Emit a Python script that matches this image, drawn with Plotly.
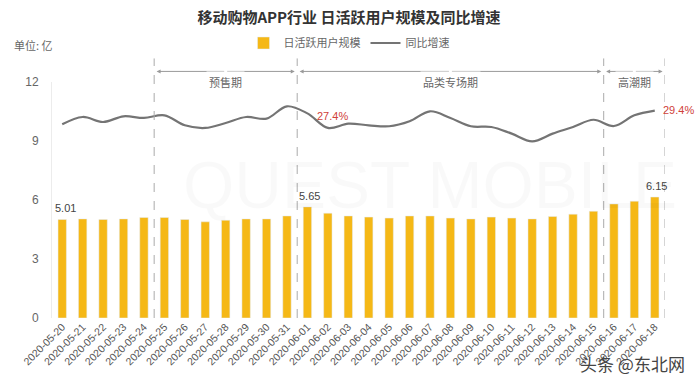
import plotly.graph_objects as go

dates = ["2020-05-20","2020-05-21","2020-05-22","2020-05-23","2020-05-24","2020-05-25",
         "2020-05-26","2020-05-27","2020-05-28","2020-05-29","2020-05-30","2020-05-31",
         "2020-06-01","2020-06-02","2020-06-03","2020-06-04","2020-06-05","2020-06-06",
         "2020-06-07","2020-06-08","2020-06-09","2020-06-10","2020-06-11","2020-06-12",
         "2020-06-13","2020-06-14","2020-06-15","2020-06-16","2020-06-17","2020-06-18"]
dau = [5.01,5.04,5.01,5.04,5.11,5.11,5.01,4.89,4.97,5.04,5.04,5.19,
       5.65,5.33,5.19,5.13,5.08,5.19,5.19,5.08,5.04,5.13,5.08,5.04,
       5.16,5.28,5.43,5.80,5.94,6.15]
growth = [19.5,24.8,21.2,25.3,24.1,26.0,18.8,16.9,20.5,24.8,23.6,32.5,
          27.4,16.9,20.0,18.8,18.1,21.7,28.9,24.1,18.1,17.6,12.8,7.3,
          12.8,17.6,22.8,18.3,26.0,29.4]
y_ticks = [0,3,6,9,12]
phases = ["预售期", "品类专场期", "高潮期"]
phase_bounds = [4.5, 11.5, 26.5, 29.5]
bar_labels = {0: "5.01", 12: "5.65", 29: "6.15"}
line_labels = {12: "27.4%", 29: "29.4%"}

FONT = "Noto Sans CJK SC"
GRAY = "#666666"

W, H = 698, 384
ML, MR, MT, MB = 52, 32.5, 81.6, 66
PW, PH = W - ML - MR, H - MT - MB
def px(xp): return (xp - ML) / PW
def py(yp): return (H - MB - yp) / PH

fig = go.Figure()
fig.add_trace(go.Bar(x=list(range(len(dates))), y=dau, name="日活跃用户规模",
                     marker_color="#F5B816", width=0.41))
fig.add_trace(go.Scatter(x=list(range(len(dates))), y=growth, name="同比增速", yaxis="y2",
                         mode="lines", line=dict(color="#747474", width=2.2, shape="spline", smoothing=1.0)))

shapes = []
for b in phase_bounds:
    shapes.append(dict(type="line", xref="x", yref="paper", x0=b, x1=b, y0=0, y1=py(58),
                       line=dict(color="#aaaaaa", width=1, dash="dash")))

ann = []
ARROW_Y = py(71)
for i in range(3):
    a, b = phase_bounds[i], phase_bounds[i+1]
    mid = (a + b) / 2
    for end in (a + 0.12, b - 0.12):
        ann.append(dict(x=end, y=ARROW_Y, xref="x", yref="paper", ax=mid, ay=0,
                        axref="x", ayref="pixel", text="", showarrow=True,
                        arrowhead=2, arrowsize=0.8, arrowwidth=1, arrowcolor="#999999"))
for i in range(3):
    a, b = phase_bounds[i], phase_bounds[i+1]
    ann.append(dict(x=(a+b)/2, y=ARROW_Y, xref="x", yref="paper", text=phases[i], showarrow=False,
                    font=dict(size=11, color=GRAY, family=FONT), bgcolor="white", borderpad=2))

for i, t in bar_labels.items():
    ann.append(dict(x=i, y=dau[i], xref="x", yref="y", text=t, showarrow=False,
                    yanchor="bottom", yshift=3, xshift=3 if i == 0 else 2,
                    font=dict(size=11, color="#444444", family="Liberation Sans")))
for i, t in line_labels.items():
    ann.append(dict(x=i, y=growth[i], xref="x", yref="y2", text=t, showarrow=False,
                    xanchor="left", xshift=8 if i == 12 else 6, yshift=-3 if i == 12 else 1,
                    font=dict(size=11, color="#d0413a", family="Liberation Sans")))

ann.append(dict(x=px(12), y=py(45), xref="paper", yref="paper", text="单位: 亿", showarrow=False,
                xanchor="left", yanchor="middle", font=dict(size=11, color=GRAY, family=FONT)))
ann.append(dict(x=px(430), y=py(185), xref="paper", yref="paper", text="QUEST MOBILE", showarrow=False,
                font=dict(size=66, color="rgba(0,0,0,0.022)", family="Liberation Sans")))
ann.append(dict(x=px(688), y=py(364), xref="paper", yref="paper", text="头条 @东北网", showarrow=False,
                xanchor="right", yanchor="middle",
                font=dict(size=17, color="#444444", family=FONT)))

fig.update_layout(
    shapes=shapes,
    annotations=ann,
    width=W, height=H,
    margin=dict(l=ML, r=MR, t=MT, b=MB, autoexpand=False),
    paper_bgcolor="white", plot_bgcolor="white",
    title=dict(text="移动购物APP行业 日活跃用户规模及同比增速", x=0.5, xanchor="center",
               y=1 - 18/H, yanchor="middle",
               font=dict(size=15, color="#333333", family=FONT, weight="bold")),
    legend=dict(orientation="h", x=0.5, xanchor="center", xref="container",
                y=1 - 43/H, yanchor="middle", yref="container",
                font=dict(size=11, color=GRAY, family=FONT)),
    xaxis=dict(tickmode="array", tickvals=list(range(len(dates))), ticktext=dates, automargin=False,
               range=[-0.5, len(dates) - 0.5], tickangle=-45, showgrid=False, zeroline=False,
               showline=False, ticks="", tickfont=dict(size=10.5, color="#555555", family="Liberation Sans")),
    yaxis=dict(range=[0, 12], tickvals=y_ticks, showgrid=False, zeroline=False, automargin=False,
               showline=True, linecolor="#ececec", linewidth=1, ticks="",
               tickfont=dict(size=12, color=GRAY, family="Liberation Sans"), ticklabelstandoff=10),
    yaxis2=dict(range=[-120, 50], overlaying="y", side="right", visible=False),
    showlegend=True,
)
fig.write_html("out.html", config={"displayModeBar": False},
               post_script="document.body.style.margin='0';document.body.style.overflow='hidden';")
